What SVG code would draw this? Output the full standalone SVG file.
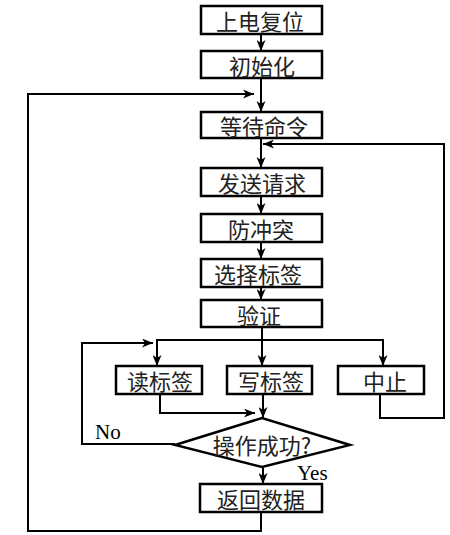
<svg xmlns="http://www.w3.org/2000/svg" width="450" height="535" viewBox="0 0 450 535">
<style>
.box{fill:#fff;stroke:#000;stroke-width:2.5}
.t{font-family:"Noto Sans CJK SC","Noto Sans",sans-serif;font-size:22px;fill:#222;text-anchor:middle;dominant-baseline:central}
.l{font-family:"Liberation Serif",serif;font-size:21px;fill:#000}
.c{fill:none;stroke:#000;stroke-width:2}
</style>
<defs>
<marker id="ah" markerUnits="userSpaceOnUse" markerWidth="11" markerHeight="9" refX="11" refY="4.5" orient="auto">
<path d="M0,0 L11,4.5 L0,9 L3,4.5 z" fill="#000"/>
</marker>
</defs>
<rect width="450" height="535" fill="#fff"/>
<g id="connectors">
<path class="c" d="M261,34 V51" marker-end="url(#ah)"/>
<path class="c" d="M261,78 V112" marker-end="url(#ah)"/>
<path class="c" d="M261,512 V531 H28 V94 H254" marker-end="url(#ah)"/>
<path class="c" d="M261,138 V168" marker-end="url(#ah)"/>
<path class="c" d="M380,394 V418 H444 V144 H263" marker-end="url(#ah)"/>
<path class="c" d="M261,196 V214" marker-end="url(#ah)"/>
<path class="c" d="M261,242 V259" marker-end="url(#ah)"/>
<path class="c" d="M261,287 V300" marker-end="url(#ah)"/>
<path class="c" d="M262,327 V366" marker-end="url(#ah)"/>
<path class="c" d="M157,366 V340 H383 V366" />
<path class="c" d="M157,341 V366" marker-end="url(#ah)"/>
<path class="c" d="M383,341 V366" marker-end="url(#ah)"/>
<path class="c" d="M160,394 V413 H255" marker-end="url(#ah)"/>
<path class="c" d="M263,394 V418" marker-end="url(#ah)"/>
<path class="c" d="M263,467 V484" marker-end="url(#ah)"/>
<path class="c" d="M175,444 H82 V343 H153" marker-end="url(#ah)"/>
<text class="l" x="95" y="439">No</text>
<text class="l" x="297" y="480">Yes</text>
</g>
<g id="n1"><rect class="box" x="201" y="6" width="121" height="28"/><text class="t" x="260" y="20">上电复位</text></g>
<g id="n2"><rect class="box" x="201" y="51" width="121" height="27"/><text class="t" x="262" y="64.5">初始化</text></g>
<g id="n3"><rect class="box" x="201" y="112" width="121" height="26"/><text class="t" x="264" y="125">等待命令</text></g>
<g id="n4"><rect class="box" x="201" y="168" width="121" height="28"/><text class="t" x="262" y="182">发送请求</text></g>
<g id="n5"><rect class="box" x="201" y="214" width="121" height="28"/><text class="t" x="261" y="228">防冲突</text></g>
<g id="n6"><rect class="box" x="201" y="259" width="121" height="28"/><text class="t" x="258" y="273">选择标签</text></g>
<g id="n7"><rect class="box" x="201" y="300" width="121" height="27"/><text class="t" x="259" y="313.5">验证</text></g>
<g id="n8"><rect class="box" x="116" y="366" width="86" height="28"/><text class="t" x="160" y="380">读标签</text></g>
<g id="n9"><rect class="box" x="227" y="366" width="85" height="28"/><text class="t" x="271" y="380">写标签</text></g>
<g id="n10"><rect class="box" x="338" y="366" width="86" height="28"/><text class="t" x="385" y="380">中止</text></g>
<g id="n11"><polygon class="box" points="175,445 262,418 350,445 262,467"/><text class="t" x="262" y="444">操作成功?</text></g>
<g id="n12"><rect class="box" x="200" y="484" width="122" height="28"/><text class="t" x="261" y="498">返回数据</text></g>
</svg>
